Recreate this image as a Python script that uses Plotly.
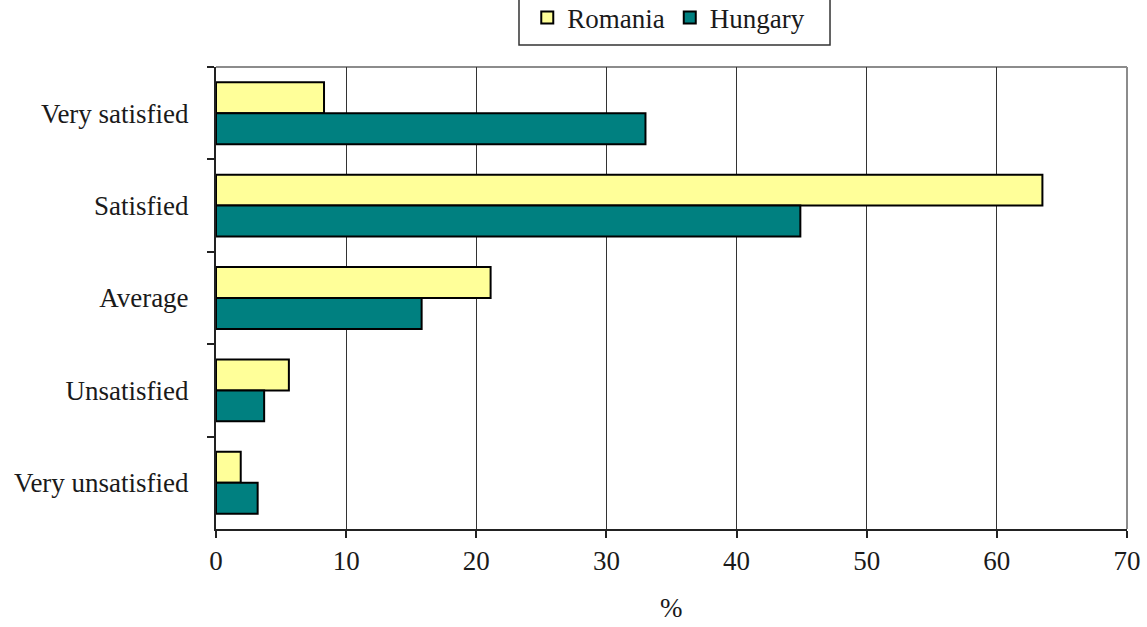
import plotly.graph_objects as go

categories = ["Very satisfied", "Satisfied", "Average", "Unsatisfied", "Very unsatisfied"]
romania = [8.3, 63.5, 21.1, 5.6, 1.9]
hungary = [33.0, 44.9, 15.8, 3.7, 3.2]
x_ticks = [0, 10, 20, 30, 40, 50, 60, 70]

FONT = "Liberation Serif, Times New Roman, serif"
FS = 27

fig = go.Figure()
fig.add_trace(go.Bar(
    name="Romania", y=categories, x=romania, orientation="h",
    marker=dict(color="#FFFF99", line=dict(color="black", width=2)),
))
fig.add_trace(go.Bar(
    name="Hungary", y=categories, x=hungary, orientation="h",
    marker=dict(color="#008080", line=dict(color="black", width=2)),
))

# frame on the top and right sides of the plot area
fig.add_shape(type="line", xref="paper", yref="paper", x0=0, x1=1, y0=1, y1=1,
              line=dict(color="#8c8c8c", width=2), layer="below")
fig.add_shape(type="line", xref="paper", yref="paper", x0=1, x1=1, y0=0, y1=1,
              line=dict(color="#8c8c8c", width=2), layer="below")
# legend box, running off the top edge
fig.add_shape(type="rect", xref="paper", yref="paper",
              x0=0.3326, x1=0.674, y0=1.0476, y1=1.2,
              line=dict(color="#333333", width=1.5), fillcolor="white")

# x-axis unit label, near the bottom edge
fig.add_annotation(text="%", xref="paper", yref="paper", x=0.5, y=-0.208,
                   xanchor="center", yanchor="bottom", showarrow=False,
                   font=dict(family=FONT, size=FS, color="#1a1a1a"))

fig.update_layout(
    width=1147, height=627,
    margin=dict(l=216, r=20, t=67, b=98, autoexpand=False),
    paper_bgcolor="white", plot_bgcolor="white",
    barmode="group", bargap=0.33, bargroupgap=0,
    font=dict(family=FONT, size=FS, color="#1a1a1a"),
    showlegend=True,
    legend=dict(orientation="h", x=0.497, xanchor="center", y=1.053, yanchor="bottom",
                bgcolor="rgba(0,0,0,0)", borderwidth=0,
                font=dict(family=FONT, size=FS, color="#1a1a1a"),
                traceorder="normal", itemwidth=30),
    xaxis=dict(
        range=[0, 70], tickvals=x_ticks, ticktext=[str(v) for v in x_ticks],
        showgrid=True, gridcolor="#333333", gridwidth=1,
        showline=True, linecolor="#222222", linewidth=2,
        ticks="outside", ticklen=7, tickwidth=1.5, tickcolor="#222222",
        zeroline=False, automargin=False,
    ),
    yaxis=dict(
        categoryorder="array", categoryarray=categories, autorange="reversed",
        showline=True, linecolor="#222222", linewidth=2,
        ticks="outside", ticklen=7, tickwidth=1.5, tickcolor="#222222",
        tickson="boundaries", showgrid=False, automargin=False,
        ticklabelstandoff=20,
    ),
)

fig.write_html("out.html")
